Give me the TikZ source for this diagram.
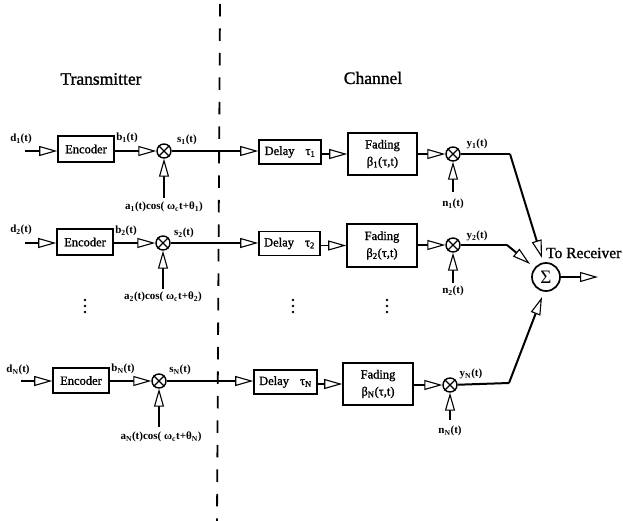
\documentclass[tikz,border=0pt]{standalone}
\usepackage{fontspec}
\setmainfont{Liberation Serif}
\newfontfamily\scanfont[FakeBold=1.2]{Liberation Serif}
\usetikzlibrary{arrows.meta}
\tikzset{
  block/.style={draw,line width=1.6pt,inner sep=0pt,font=\fontsize{12.5}{14}\selectfont\scanfont,align=center},
  mult/.style={draw,circle,line width=1.4pt,minimum size=14pt,inner sep=0pt},
  sumc/.style={draw,circle,line width=1.7pt,minimum size=28pt,inner sep=0pt,font=\fontsize{19}{19}\selectfont},
  lab/.style={inner sep=0pt,font=\fontsize{11}{13}\selectfont\bfseries},
  head/.style={inner sep=0pt,font=\fontsize{17.5}{20}\selectfont\scanfont},
  conn/.style={line width=1.4pt,-{Triangle[open,fill=white,length=18pt,width=10pt,line width=1.1pt]}},
  wire/.style={line width=2pt},
}
\begin{document}
\begin{tikzpicture}[x=1pt,y=-1pt]
\useasboundingbox (0,0) rectangle (623,521);
\fill[white] (0,0) rectangle (623,521);
% divider
\coordinate (dtop) at (220,4);
\coordinate (dbot) at (217,521);
\draw[line width=1.8pt,dash pattern=on 12.5pt off 12pt] (dtop) -- (dbot);
% headings
\node[head] at (101,79) {Transmitter};
\node[head] at (373,78) {Channel};
% row 1
\coordinate (d1) at (25,151);
\node[block,minimum width=56pt,minimum height=26pt] (e1) at (86,149) {Encoder};
\node[mult] (m1) at (164,151) {};
\coordinate (a1) at (164,198);
\node[block,minimum width=62pt,minimum height=24pt] (t1) at (290,152) {Delay\hspace{11pt}τ\textsubscript{1}};
\node[block,minimum width=69pt,minimum height=42pt] (f1) at (382.5,154) {Fading\\[3pt]β\textsubscript{1}(τ,t)};
\node[mult] (p1) at (453,154) {};
\coordinate (n1) at (453,192);
\coordinate (b1) at (510,154);
% row 2
\coordinate (d2) at (25,243);
\node[block,minimum width=56pt,minimum height=26pt] (e2) at (85,242) {Encoder};
\node[mult] (m2) at (163,243) {};
\coordinate (a2) at (163,289);
\node[block,minimum width=61pt,minimum height=24pt] (t2) at (289.5,243.5) {Delay\hspace{11pt}τ\textsubscript{2}};
\node[block,minimum width=70pt,minimum height=43pt] (f2) at (382,245.5) {Fading\\[3pt]β\textsubscript{2}(τ,t)};
\node[mult] (p2) at (453,245) {};
\coordinate (n2) at (453,283);
\coordinate (b2) at (507,245);
% row 3
\coordinate (d3) at (21,381);
\node[block,minimum width=56pt,minimum height=25pt] (e3) at (81,380.5) {Encoder};
\node[mult] (m3) at (159,381) {};
\coordinate (a3) at (159,427);
\node[block,minimum width=63pt,minimum height=24pt] (t3) at (285.5,382) {Delay\hspace{11pt}τ\textsubscript{N}};
\node[block,minimum width=70pt,minimum height=42pt] (f3) at (378,384) {Fading\\[3pt]β\textsubscript{N}(τ,t)};
\node[mult] (p3) at (450,385) {};
\coordinate (n3) at (450,420);
\coordinate (b3) at (509,383);
% sum
\node[sumc] (sum) at (546,277) {Σ};
\coordinate (out) at (598,277);
\coordinate (i1) at (542,258);
\coordinate (i2) at (530,264);
\coordinate (i3) at (542,297);
% crosses
\foreach \m in {m1,m2,m3,p1,p2,p3}{
  \draw[line width=1.1pt] (\m.45) -- (\m.225) (\m.135) -- (\m.315);
}
% connectors
\foreach \k in {1,2,3}{
  \draw[conn] (d\k) -- (e\k.west |- d\k);
  \draw[conn] (e\k.east |- m\k) -- (m\k);
  \draw[conn] (m\k) -- (t\k.west |- m\k);
  \draw[conn] (t\k.east |- f\k) -- (f\k);
  \draw[conn] (f\k.east |- p\k) -- (p\k);
  \draw[conn] (a\k) -- (m\k);
  \draw[conn] (n\k) -- (p\k);
}
\draw[wire] (p1) -- (b1);
\draw[conn,line width=2pt] (b1) -- (i1);
\draw[wire] (p2) -- (b2);
\draw[conn,line width=2pt] (b2) -- (i2);
\draw[wire] (p3) -- (b3);
\draw[conn,line width=2pt] (b3) -- (i3);
\draw[conn] (sum) -- (out);
% labels row 1
\node[lab] at (21,139) {d\textsubscript{1}(t)};
\node[lab] at (127,138) {b\textsubscript{1}(t)};
\node[lab] at (187,140) {s\textsubscript{1}(t)};
\node[lab] at (164,207) {a\textsubscript{1}(t)cos( ω\textsubscript{c}t+θ\textsubscript{1})};
\node[lab] at (477,144) {y\textsubscript{1}(t)};
\node[lab] at (453,204) {n\textsubscript{1}(t)};
% labels row 2
\node[lab] at (21,230) {d\textsubscript{2}(t)};
\node[lab] at (126,231) {b\textsubscript{2}(t)};
\node[lab] at (184,233) {s\textsubscript{2}(t)};
\node[lab] at (163,297) {a\textsubscript{2}(t)cos( ω\textsubscript{c}t+θ\textsubscript{2})};
\node[lab] at (477,236) {y\textsubscript{2}(t)};
\node[lab] at (453,291) {n\textsubscript{2}(t)};
% labels row 3
\node[lab] at (18,370) {d\textsubscript{N}(t)};
\node[lab] at (123,369) {b\textsubscript{N}(t)};
\node[lab] at (180,370) {s\textsubscript{N}(t)};
\node[lab] at (161,437) {a\textsubscript{N}(t)cos( ω\textsubscript{c}t+θ\textsubscript{N})};
\node[lab] at (471,374) {y\textsubscript{N}(t)};
\node[lab] at (450,431) {n\textsubscript{N}(t)};
% receiver
\node[anchor=west,inner sep=0pt,font=\fontsize{15.5}{18}\selectfont\scanfont] at (546,253) {To Receiver};
% vertical dots
\foreach \x in {85,293,387}{
  \fill (\x,300) circle (1.4pt) (\x,306) circle (1.4pt) (\x,312) circle (1.4pt);
}
\end{tikzpicture}
\end{document}
